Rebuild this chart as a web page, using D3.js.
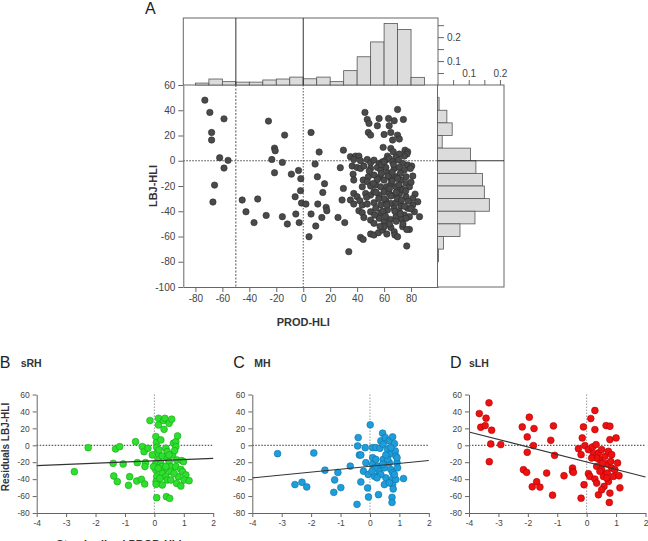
<!DOCTYPE html>
<html>
<head>
<meta charset="utf-8">
<script src="https://cdn.jsdelivr.net/npm/d3@7"></script>
<style>
  body { margin: 0; background: #fff; }
  svg { font-family: "Liberation Sans", Arial, sans-serif; }
  .tick text { fill: #444; }
</style>
</head>
<body>
<svg id="fig" width="648" height="541"></svg>
<script>
// ---- data ----

// panel A scatter: [PROD-HLI, LBJ-HLI]
var pointsA = [
  [-73,48],[-69.3,38.3],[-68,22.4],[-68,16.4],[-58.8,33.2],[-62,2.4],[-55.8,0.3],[-58.8,-5.8],[-65.8,-19.3],[-67,-32.7],
  [-25.8,31.4],[-13.8,20.3],[-21.3,10],[-20.8,7.9],[-23.3,1],[-15.5,-1.3],[-21.3,-9.5],[-45.3,-31.1],[-33.8,-30.3],[-42.5,-40.4],
  [-36.5,-49],[-27.5,-43.3],[-15.5,-44.3],[-11.8,-50.1],[-8.8,-10.6],[-3.5,-7.7],[-1.8,-14.2],[-6,-28.5],[-2,-23.7],[-5.5,-42.2],
  [-3,-49],[-1.3,-33.5],[2,-34.3],[5.8,22.4],[8.8,-2.6],[11.8,6.9],[10.5,-12.7],[10.8,-34.3],[5.8,-42.2],[4.3,-60.2],
  [9.3,-51.7],[15.8,-18.2],[14.5,-25.1],[17,-36.9],[17.5,-39.6],[13.8,-44.9],[29.8,8.4],[27.5,-5.5],[29.8,-21.9],[28.8,-31.1],
  [25.8,-44.9],[30.8,-49],[33.8,-72],
  [45.8,38.3],[47.5,32.7],[48.8,29.6],[48.3,22.4],[50,20.3],[56.3,33.5],[55,27.7],[63.3,33.5],[63.8,27.7],[67.5,31.7],
  [70,40.6],[74.3,32.7],[60,20.8],[65,22.4],[66.3,16.4],[70,20.3],[71.3,17.2],[59.3,10.6],[65,9.8],[66.8,7.1],
  [75.5,8.4],[77.5,7.1],[77,5.3],[75,3.7],[71.3,5.3],[62.5,3.7],[68.8,2.6],
  [35,3.2],[38.8,3.7],[41.3,3.7],[37.5,1],[42.5,0],[47.5,1],[50,-1.6],[52.5,0.5],[56.3,-2.1],[58.8,-0.8],
  [61.3,0.5],[63.8,1.8],[66.3,-0.8],[70.8,0.5],[73.8,-2.1],[77.5,-3.4],[80.5,-4.2],[79.5,-6.1],[81.3,-12.1],[36.3,-4.2],
  [40,-5.3],[37,-10.6],[37.5,-15.3],[42.5,-6.1],[45,-4.2],[50,-6.1],[55,-5.3],[57.5,-7.4],[61.3,-5.3],[62.5,-9.5],
  [67.5,-6.1],[71.3,-5.3],[75,-7.4],[76.3,-12.7],[48.3,-12.7],[52.5,-11.3],[57,-12.7],[60,-15.3],[65,-14],[68.8,-12.7],
  [72.5,-15.3],[76.3,-17.9],[44.5,-15.3],[47.5,-16.6],[43.8,-20.6],[50,-20],[53.8,-19.3],[57.5,-20.6],[62,-20.6],[65,-18.5],
  [68.8,-20.6],[72.5,-21.9],[78.8,-20.6],[83,-26.4],[37.5,-25.9],[40,-28.5],[35,-31.1],[42,-31.7],[46.3,-25.9],[50,-27.2],
  [52.5,-24.5],[56.3,-27.2],[60,-24.5],[63.8,-25.9],[67.5,-27.2],[71.5,-25.9],[76.3,-28.5],[81.3,-29.8],[85,-32.5],[81.3,-35.1],
  [37.5,-34.3],[43.8,-35.1],[47.5,-34.3],[52.5,-33.2],[57.5,-35.1],[61.3,-31.7],[65,-33.8],[68.8,-33.2],[72.5,-35.9],[77.5,-37.7],
  [41.3,-39.6],[43.8,-41.2],[50,-40.4],[53.8,-37.7],[57.5,-41.2],[62.5,-39],[67.5,-37.7],[71.3,-40.4],[75,-43],[78.8,-44.3],
  [82.5,-40.4],[86.3,-44.3],[50,-47],[52.5,-49.6],[56.3,-45.6],[60,-48.3],[64.5,-46.4],[68.8,-44.3],[73.3,-46.4],[76.3,-45.6],
  [78.8,-54.4],[50,-58],[52.5,-58.8],[55.8,-57],[58.8,-54.9],[60,-52.2],[65,-52.8],[67.5,-56.2],[68,-58.8],[70,-60.2],
  [73.8,-52.2],[76.8,-54.4],[42.5,-60.7],[44.5,-62.3],[76.8,-67.5],
  [55,-15],[58,-10],[60,-30],[62,-35],[64,-22],[66,-16],[68,-40],[70,-30],[72,-10],[74,-23],
  [56,-30],[59,-40],[63,-12],[67,-3],[69,-48],[71,-19],[73,-31],[75,-36],[53,-43],[57,-52],
  [61,-44],[65,-28],[66,-9],[69,-25],[72,-42],[76,-24],[78,-32],[80,-17],[54,-25],[58,-3],
  [62,-58],[64,-50],[47,-29],[45,-45],[49,-8],[52,-18],[60,-1],[70,-14],[74,-50],[80,-38]
];

// marginal histograms (bin start, width 10)
var topBinStart = [-80,-70,-60,-50,-40,-30,-20,-10,0,10,20,30,40,50,60,70,80];
var topFreq     = [0.008,0.025,0.014,0.012,0.012,0.021,0.025,0.033,0.026,0.033,0.014,0.06,0.118,0.18,0.257,0.232,0.032];
var rightBinStart = [40,30,20,10,0,-10,-20,-30,-40,-50,-60,-70,-80];
var rightFreq     = [0.005,0.03,0.047,0.015,0.106,0.123,0.144,0.15,0.166,0.12,0.072,0.019,0.003];

var mainXTicks = [-80,-60,-40,-20,0,20,40,60,80];
var mainYTicks = [-100,-80,-60,-40,-20,0,20,40,60];

// panels B-D: [standardized PROD-HLI, residuals LBJ-HLI]
var pointsSRH = [
  [-2.25,-2.8],[-2.72,-31.2],[-1.32,-4.3],[-1.18,-1.6],[-1.4,-21.3],[-1.06,-22.1],[-1.38,-36.3],[-1.26,-43],[-0.84,-37.1],[-0.88,-47.3],
  [-0.64,4.3],[-0.58,-20.5],[-0.6,-42.2],[-0.44,-40.2],[-0.41,-1.6],[-0.35,-7.5],[-0.33,-45.7],[-0.3,-20.5],[-0.32,-25.2],[-0.22,-3.5],
  [-0.15,29.2],[0.05,10.3],[0.07,3.2],[0.08,-2.4],[0.08,-9.5],[0.13,-17.4],[0.05,-21.3],[0.05,-29.2],[0.08,-37.1],[0.06,-43],
  [0.06,-46.1],[0.08,-61.9],[0.14,31.9],[0.14,24],[0.22,6.3],[0.31,29.2],[0.36,31.9],[0.33,18.9],[0.39,-3.5],[0.27,-12.6],
  [0.22,-21.3],[0.25,-25.2],[0.33,-29.2],[0.27,-33.1],[0.39,-37.1],[0.44,-41],[0.5,26],[0.59,30.8],[0.44,-15.4],[0.5,-19.3],
  [0.56,-25.2],[0.41,-60.7],[0.52,-62.7],[0.56,-41],[0.62,-11.4],[0.65,2.4],[0.73,4.3],[0.73,-1.6],[0.69,-6.3],[0.76,-17.4],
  [0.73,-25.2],[0.79,11],[0.81,-37.1],[0.76,-45],[0.93,-18.1],[0.9,-28.4],[0.96,-31.2],[0.99,-19.3],[1.07,-35.1],[1.01,-41],
  [1.18,-41.8],[0.9,-48.1],[-0.07,-11.4],[-0.03,-25.2],[0.44,-7.5],[0.16,-5.5],[0.56,-31.2],[0.67,-33.1],[0.39,-25.2],[0.19,-39],
  [0.27,-46.9],[0.13,-27.2],[0.5,-11.4]
];
var pointsMH = [
  [-3.14,-9.9],[-1.91,-9.1],[-2.55,-46.4],[-2.31,-43.7],[-2.15,-49.2],[-1.53,-29.4],[-1.2,-40.9],[-1.09,-32.1],[-1.23,-55.6],[-0.99,-50],
  [-0.67,-24.6],[-0.4,9.1],[-0.42,-0.8],[-0.36,-11.5],[-0.31,-11.5],[-0.31,-43.3],[-0.44,-69.8],[-0.22,-30.6],[-0.16,-2.8],[-0.14,-20.6],
  [-0.06,-34.5],[-0.08,-50.4],[-0.05,-61.1],[0.01,24.2],[0.09,-2.8],[0.09,-14.7],[0.09,-22.6],[0.15,-36.5],[0.2,-2.8],[0.26,-24.6],
  [0.2,-16.7],[0.32,-30.6],[0.29,-58.3],[0.34,-3.6],[0.37,5.2],[0.43,14.3],[0.45,1.2],[0.45,-16.7],[0.49,-26.6],[0.54,-38.5],
  [0.52,9.1],[0.6,-4.8],[0.66,5.2],[0.66,-10.7],[0.66,-20.6],[0.71,-28.6],[0.74,-40.5],[0.77,9.9],[0.77,-46.4],[0.75,-61.5],
  [0.75,-67.5],[0.77,-32.5],[0.83,2],[0.86,-6.7],[0.88,-12.7],[0.92,-20.6],[0.94,-26.6],[0.88,-40.5],[0.79,-51.6],[1.14,-39.3],
  [0.6,-16.7],[0.49,-46.4],[0.37,-34.5],[0.24,-38.5],[0.17,-26.6],[0.43,-22.6],[0.54,-11.5],[0.71,-2.8],[0.83,-34.5],[0.66,-44.4],
  [0.92,-14.7],[0.07,-30.6]
];
var pointsSLH = [
  [-3.65,37.5],[-3.6,21.3],[-3.42,32],[-3.45,23.3],[-3.32,50.2],[-3.23,17.8],[-3.26,1.6],[-3.31,-19.4],[-2.92,0.8],[-2.19,21.7],
  [-2.15,-28.9],[-2.04,-32],[-2.02,-8.3],[-2.02,9.9],[-1.95,33.2],[-1.79,19.8],[-1.81,-0.4],[-1.85,-49],[-1.7,-43.1],[-1.59,-49.4],
  [-1.36,-32.8],[-1.22,5.9],[-1.13,22.9],[-1.09,-11.9],[-1.16,-58.9],[-0.77,-36],[-0.48,-26.9],[-0.48,-30.8],[-0.45,-32],[-0.28,-4],
  [-0.19,-11.1],[-0.15,8.7],[-0.19,-62.5],[-0.11,21.7],[-0.09,-46.6],[-0.06,-0.4],[0.06,-5.1],[0.06,-33.6],[0.11,-36.8],[0.14,31.6],
  [0.2,-2],[0.23,-9.9],[0.28,41.1],[0.28,18.6],[0.32,0.8],[0.28,-39.9],[0.34,-24.9],[0.4,-9.1],[0.4,-58.5],[0.45,-17],
  [0.51,-5.1],[0.51,-28.9],[0.57,-36.8],[0.59,-48.6],[0.62,-13],[0.66,23.3],[0.68,-21.7],[0.7,-32.8],[0.74,-42.7],[0.74,-7.1],
  [0.79,22.5],[0.79,6.7],[0.82,-19],[0.85,-26.9],[0.79,-56.5],[0.77,-67.6],[0.91,-36.8],[0.96,-28.9],[1,8.7],[1.05,-20.9],
  [1.1,-36],[1.13,-50.2],[0.54,-21.3],[0.45,-30.8],[0.34,-15],[0.17,-15],[0.68,-38.7],[0.85,-11.1],[0.51,-52.6],[0.34,-44.7]
];
// regression fit: residual value at x = -4 and x = 2
var fitSRH = [-24, -15.5];
var fitMH  = [-38.5, -18];
var fitSLH = [15.8, -37.5];

var panelXTicks = [-4,-3,-2,-1,0,1,2];
var panelYTicks = [-80,-60,-40,-20,0,20,40,60];

// ---- layout ----
var svg = d3.select("#fig");
var frameColor = "#666";
var plainFmt = function(d) { return String(d); };   // keep plain hyphen minus

// main scatter scales
var xMain = d3.scaleLinear().domain([-89, 100]).range([183.3, 438]);
var yMain = d3.scaleLinear().domain([-100, 60]).range([287, 85]);
// marginal histogram scales
var yTop = d3.scaleLinear().domain([0, 0.28]).range([85, 18]);
var xRight = d3.scaleLinear().domain([0, 0.213]).range([437.5, 504]);

function styleAxis(g, size) {
  g.selectAll(".domain").attr("stroke", frameColor);
  g.selectAll(".tick line").attr("stroke", frameColor);
  g.selectAll(".tick text").attr("font-size", size).attr("fill", "#444");
}

// title A
svg.append("text").attr("x", 145).attr("y", 14)
  .attr("font-size", 16).attr("fill", "#222").text("A");

// top histogram
var gTop = svg.append("g");
gTop.append("rect")
  .attr("x", xMain(-89)).attr("y", yTop(0.28))
  .attr("width", xMain(100) - xMain(-89)).attr("height", yTop(0) - yTop(0.28))
  .attr("fill", "none").attr("stroke", frameColor);
gTop.selectAll("rect.bar")
  .data(topBinStart)
  .enter().append("rect")
  .attr("class", "bar")
  .attr("x", function(d) { return xMain(d); })
  .attr("width", function(d) { return xMain(d + 10) - xMain(d); })
  .attr("y", function(d, i) { return yTop(topFreq[i]); })
  .attr("height", function(d, i) { return yTop(0) - yTop(topFreq[i]); })
  .attr("fill", "#dcdcdc").attr("stroke", "#555").attr("stroke-width", 0.8);
[-50, 0].forEach(function(v) {
  gTop.append("line")
    .attr("x1", xMain(v)).attr("x2", xMain(v))
    .attr("y1", yTop(0.28)).attr("y2", yTop(0))
    .attr("stroke", "#333").attr("stroke-width", 1);
});
gTop.append("g")
  .attr("transform", "translate(" + xMain(100) + ",0)")
  .call(d3.axisRight(yTop).tickValues([0.05, 0.1, 0.15, 0.2, 0.25]).tickSize(6).tickSizeOuter(0)
    .tickFormat(function(d) { return (d === 0.1 || d === 0.2) ? d : ""; }))
  .call(styleAxis, 10)
  .select(".domain").remove();

// right histogram
var gRight = svg.append("g");
gRight.append("rect")
  .attr("x", xRight(0)).attr("y", yMain(60))
  .attr("width", xRight(0.213) - xRight(0)).attr("height", yMain(-100) - yMain(60))
  .attr("fill", "none").attr("stroke", frameColor);
gRight.selectAll("rect.bar")
  .data(rightBinStart)
  .enter().append("rect")
  .attr("class", "bar")
  .attr("x", xRight(0))
  .attr("y", function(d) { return yMain(d + 10); })
  .attr("height", function(d) { return yMain(d) - yMain(d + 10); })
  .attr("width", function(d, i) { return xRight(rightFreq[i]) - xRight(0); })
  .attr("fill", "#dcdcdc").attr("stroke", "#555").attr("stroke-width", 0.8);
gRight.append("line")
  .attr("x1", xRight(0)).attr("x2", xRight(0.213))
  .attr("y1", yMain(0)).attr("y2", yMain(0))
  .attr("stroke", "#333");
gRight.append("g")
  .attr("transform", "translate(0," + yMain(60) + ")")
  .call(d3.axisTop(xRight).tickValues([0.05, 0.1, 0.15, 0.2]).tickSize(5).tickSizeOuter(0)
    .tickFormat(function(d) { return (d === 0.1 || d === 0.2) ? d : ""; }))
  .call(styleAxis, 10)
  .select(".domain").remove();

// main scatter
var gMain = svg.append("g");
gMain.append("line")
  .attr("x1", xMain(-89)).attr("x2", xMain(100))
  .attr("y1", yMain(0)).attr("y2", yMain(0))
  .attr("stroke", "#444").attr("stroke-dasharray", "1.5,1.5");
gMain.append("line")
  .attr("x1", xMain(-50)).attr("x2", xMain(-50))
  .attr("y1", yMain(60)).attr("y2", yMain(-100))
  .attr("stroke", "#555").attr("stroke-dasharray", "2,1.5");
gMain.append("line")
  .attr("x1", xMain(0)).attr("x2", xMain(0))
  .attr("y1", yMain(60)).attr("y2", yMain(-100))
  .attr("stroke", "#555").attr("stroke-dasharray", "1.5,1.5");

gMain.selectAll("circle")
  .data(pointsA)
  .enter().append("circle")
  .attr("cx", function(d) { return xMain(d[0]); })
  .attr("cy", function(d) { return yMain(d[1]); })
  .attr("r", 3.2)
  .attr("fill", "#4a4a4a").attr("stroke", "#2b2b2b").attr("stroke-width", 0.6);

gMain.append("g")
  .attr("transform", "translate(" + xMain(-89) + ",0)")
  .call(d3.axisLeft(yMain).tickValues(mainYTicks).tickSize(5).tickSizeOuter(0).tickFormat(plainFmt))
  .call(styleAxis, 10);
gMain.append("g")
  .attr("transform", "translate(0," + yMain(-100) + ")")
  .call(d3.axisBottom(xMain).tickValues(mainXTicks).tickSize(5).tickSizeOuter(0).tickFormat(plainFmt))
  .call(styleAxis, 10);

gMain.append("text")
  .attr("transform", "translate(157," + yMain(-20) + ")rotate(-90)")
  .attr("text-anchor", "middle")
  .attr("font-size", 11).attr("font-weight", "bold").attr("fill", "#333")
  .text("LBJ-HLI");
gMain.append("text")
  .attr("x", xMain(0)).attr("y", 326)
  .attr("text-anchor", "middle")
  .attr("font-size", 11).attr("font-weight", "bold").attr("fill", "#333")
  .text("PROD-HLI");

// ---- residual panels ----
var panels = [
  {letter: "B", name: "sRH", left: 36.7, pts: pointsSRH, fit: fitSRH, fill: "#2ee02e", stroke: "#17a317"},
  {letter: "C", name: "MH",  left: 252.3, pts: pointsMH, fit: fitMH, fill: "#1e9ddb", stroke: "#0d72a8"},
  {letter: "D", name: "sLH", left: 469, pts: pointsSLH, fit: fitSLH, fill: "#ee1111", stroke: "#b00000"}
];

panels.forEach(function(p, k) {
  var x = d3.scaleLinear().domain([-4, 2]).range([p.left, p.left + 176.5]);
  var y = d3.scaleLinear().domain([-80, 60]).range([513, 394.5]);
  var g = svg.append("g");

  g.append("text").attr("x", p.left - 37 + (k === 0 ? 0 : 18)).attr("y", 368)
    .attr("font-size", 16).attr("fill", "#222").text(p.letter);
  g.append("text").attr("x", p.left - 16 + (k === 0 ? 0 : 18) - (k === 2 ? 2 : 0)).attr("y", 367)
    .attr("font-size", 10.5).attr("font-weight", "bold").attr("fill", "#333").text(p.name);

  g.append("line")
    .attr("x1", x(-4)).attr("x2", x(2)).attr("y1", y(0)).attr("y2", y(0))
    .attr("stroke", "#333").attr("stroke-dasharray", "1.5,1.5");
  g.append("line")
    .attr("x1", x(0)).attr("x2", x(0)).attr("y1", y(60)).attr("y2", y(-80))
    .attr("stroke", "#999").attr("stroke-dasharray", "1.5,1.5");

  g.selectAll("circle")
    .data(p.pts)
    .enter().append("circle")
    .attr("cx", function(d) { return x(d[0]); })
    .attr("cy", function(d) { return y(d[1]); })
    .attr("r", 3.4)
    .attr("fill", p.fill).attr("stroke", p.stroke).attr("stroke-width", 0.6);

  g.append("line")
    .attr("x1", x(-4)).attr("x2", x(2))
    .attr("y1", y(p.fit[0])).attr("y2", y(p.fit[1]))
    .attr("stroke", "#333").attr("stroke-width", 1.1);

  g.append("g")
    .attr("transform", "translate(" + x(-4) + ",0)")
    .call(d3.axisLeft(y).tickValues(panelYTicks).tickSize(4).tickSizeOuter(0).tickFormat(plainFmt))
    .call(styleAxis, 8.5);
  g.append("g")
    .attr("transform", "translate(0," + y(-80) + ")")
    .call(d3.axisBottom(x).tickValues(panelXTicks).tickSize(4).tickSizeOuter(0).tickFormat(plainFmt))
    .call(styleAxis, 8.5);
});

svg.append("text")
  .attr("transform", "translate(9,447)rotate(-90)")
  .attr("text-anchor", "middle")
  .attr("font-size", 10).attr("font-weight", "bold").attr("fill", "#333")
  .text("Residuals LBJ-HLI");
svg.append("text")
  .attr("x", 119).attr("y", 548)
  .attr("text-anchor", "middle")
  .attr("font-size", 11).attr("font-weight", "bold").attr("fill", "#333")
  .text("Standardized PROD-HLI");
</script>
</body>
</html>
